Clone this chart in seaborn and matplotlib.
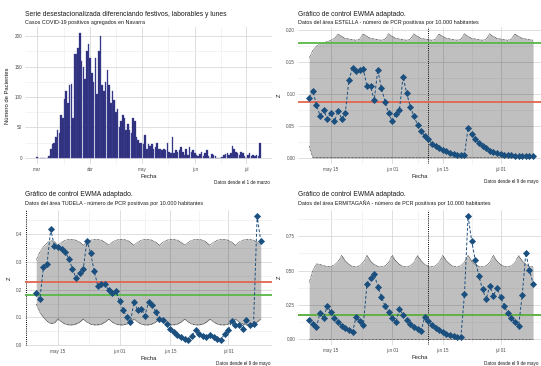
import numpy as np
import matplotlib
matplotlib.use("Agg")
import matplotlib.pyplot as plt
import seaborn as sns

# ---------------- datos ----------------
# Casos diarios en Navarra desde el 1 de marzo (día 0)
casos = [2, 0, 0, 0, 0, 0, 0, 3, 15, 22,
         25, 35, 45, 40, 70, 65, 97, 110, 90, 120,
         122, 65, 170, 170, 180, 205, 160, 150, 130, 175,
         188, 165, 140, 125, 165, 105, 175, 200, 120, 110,
         125, 145, 120, 90, 110, 95, 75, 80, 50, 60,
         70, 65, 45, 55, 45, 40, 65, 60, 35, 30,
         25, 25, 22, 37, 15, 22, 20, 22, 15, 18,
         25, 15, 14, 12, 14, 12, 25, 10, 8, 35,
         8, 12, 10, 12, 18, 10, 5, 15, 5, 18,
         10, 12, 8, 5, 3, 6, 10, 3, 8, 12,
         3, 0, 6, 5, 3, 0, 0, 0, 2, 5,
         6, 8, 5, 8, 20, 15, 10, 8, 5, 10,
         8, 3, 0, 5, 8, 3, 5, 3, 5, 3,
         25]
meses_dias = [0, 31, 61, 92, 122]
meses_lab = ["mar", "abr", "may", "jun", "jul"]

# EWMA desde el 9 de mayo (día 0)
fechas_dias = [6, 23, 37, 53]
fechas_lab = ["may 15", "jun 01", "jun 15", "jul 01"]

estella_z = [0.094, 0.105, 0.083, 0.066, 0.075, 0.061, 0.070, 0.057, 0.074, 0.061,
             0.070, 0.122, 0.141, 0.136, 0.138, 0.139, 0.112, 0.112, 0.090, 0.138,
             0.109, 0.088, 0.070, 0.057, 0.068, 0.075, 0.127, 0.101, 0.080, 0.065,
             0.052, 0.042, 0.034, 0.029, 0.022, 0.018, 0.015, 0.012, 0.010, 0.008,
             0.006, 0.005, 0.004, 0.004, 0.047, 0.037, 0.030, 0.023, 0.018, 0.015,
             0.011, 0.009, 0.008, 0.006, 0.005, 0.004, 0.004, 0.003, 0.003, 0.002,
             0.002, 0.002, 0.002]
estella_sup = [0.156, 0.168, 0.175, 0.178, 0.180, 0.182, 0.184, 0.187,
               0.194, 0.190, 0.187, 0.186, 0.185, 0.184, 0.186,
               0.194, 0.190, 0.187, 0.186, 0.185, 0.184, 0.186,
               0.194, 0.190, 0.187, 0.186, 0.185, 0.184, 0.186,
               0.194, 0.190, 0.187, 0.186, 0.185, 0.184, 0.186,
               0.194, 0.190, 0.187, 0.186, 0.185, 0.184, 0.186,
               0.194, 0.190, 0.187, 0.186, 0.185, 0.184, 0.186,
               0.194, 0.190, 0.187, 0.186, 0.185, 0.184, 0.186,
               0.194, 0.190, 0.187, 0.186, 0.185, 0.184]
estella_inf = [0.018, 0.0, 0.0, 0.0, 0.0, 0.0, 0.0, 0.0, 0.0, 0.0,
               0.0, 0.0, 0.0, 0.0, 0.0, 0.0, 0.0, 0.0, 0.0, 0.0,
               0.0, 0.0, 0.0, 0.0, 0.0, 0.0, 0.0, 0.0, 0.0, 0.0,
               0.0, 0.0, 0.0, 0.0, 0.0, 0.0, 0.0, 0.0, 0.0, 0.0,
               0.0, 0.0, 0.0, 0.0, 0.0, 0.0, 0.0, 0.0, 0.0, 0.0,
               0.0, 0.0, 0.0, 0.0, 0.0, 0.0, 0.0, 0.0, 0.0, 0.0,
               0.0, 0.0, 0.0]

tudela_z = [0.189, 0.166, 0.282, 0.294, 0.417, 0.358, 0.354, 0.346, 0.336, 0.312,
            0.274, 0.243, 0.261, 0.276, 0.376, 0.333, 0.267, 0.214, 0.219, 0.219,
            0.198, 0.189, 0.196, 0.159, 0.126, 0.102, 0.082, 0.156, 0.126, 0.132,
            0.106, 0.154, 0.144, 0.120, 0.094, 0.090, 0.076, 0.058, 0.046, 0.036,
            0.030, 0.024, 0.020, 0.032, 0.056, 0.042, 0.034, 0.028, 0.036, 0.030,
            0.024, 0.020, 0.040, 0.054, 0.088, 0.072, 0.072, 0.060, 0.092, 0.072,
            0.076, 0.465, 0.375]
tudela_sup = [0.306, 0.336, 0.354, 0.368, 0.376, 0.374,
              0.360, 0.371, 0.378, 0.381, 0.381, 0.378, 0.371,
              0.360, 0.371, 0.378, 0.381, 0.381, 0.378, 0.371,
              0.360, 0.371, 0.378, 0.381, 0.381, 0.378, 0.371,
              0.360, 0.371, 0.378, 0.381, 0.381, 0.378, 0.371,
              0.360, 0.371, 0.378, 0.381, 0.381, 0.378, 0.371,
              0.360, 0.371, 0.378, 0.381, 0.381, 0.378, 0.371,
              0.360, 0.371, 0.378, 0.381, 0.381, 0.378, 0.371,
              0.360, 0.371, 0.378, 0.381, 0.381, 0.378, 0.371,
              0.360]
tudela_inf = [0.148, 0.118, 0.100, 0.086, 0.078, 0.080,
              0.094, 0.083, 0.076, 0.073, 0.073, 0.076, 0.083,
              0.094, 0.083, 0.076, 0.073, 0.073, 0.076, 0.083,
              0.094, 0.083, 0.076, 0.073, 0.073, 0.076, 0.083,
              0.094, 0.083, 0.076, 0.073, 0.073, 0.076, 0.083,
              0.094, 0.083, 0.076, 0.073, 0.073, 0.076, 0.083,
              0.094, 0.083, 0.076, 0.073, 0.073, 0.076, 0.083,
              0.094, 0.083, 0.076, 0.073, 0.073, 0.076, 0.083,
              0.094, 0.083, 0.076, 0.073, 0.073, 0.076, 0.083,
              0.094]

ermi_z = [0.138, 0.107, 0.085, 0.192, 0.150, 0.243, 0.194, 0.150, 0.121, 0.097,
          0.078, 0.066, 0.049, 0.163, 0.131, 0.102, 0.400, 0.442, 0.478, 0.381,
          0.308, 0.240, 0.199, 0.150, 0.121, 0.218, 0.175, 0.138, 0.109, 0.085,
          0.070, 0.056, 0.163, 0.131, 0.102, 0.083, 0.066, 0.051, 0.039, 0.029,
          0.022, 0.015, 0.010, 0.325, 0.898, 0.716, 0.575, 0.459, 0.362, 0.289,
          0.388, 0.313, 0.374, 0.308, 0.240, 0.192, 0.155, 0.121, 0.095, 0.320,
          0.629, 0.502, 0.405]
ermi_sup = [0.413, 0.500, 0.548, 0.545, 0.535, 0.530, 0.530, 0.540, 0.565,
            0.610, 0.570, 0.545, 0.530, 0.527, 0.535, 0.560,
            0.610, 0.570, 0.545, 0.530, 0.527, 0.535, 0.560,
            0.610, 0.570, 0.545, 0.530, 0.527, 0.535, 0.560,
            0.610, 0.570, 0.545, 0.530, 0.527, 0.535, 0.560,
            0.610, 0.570, 0.545, 0.530, 0.527, 0.535, 0.560,
            0.610, 0.570, 0.545, 0.530, 0.527, 0.535, 0.560,
            0.610, 0.570, 0.545, 0.530, 0.527, 0.535, 0.560,
            0.610, 0.570, 0.545, 0.530, 0.527]
ermi_inf = estella_inf[1:] + [0.0]

# medias (rojo), referencia (verde), línea vertical
medias = [0.087, 0.227, 0.175]
referencias = [0.180, 0.180, 0.176]
cortes = [33, -2.8, 33]

# ---------------- estilo ----------------
sns.set_theme(style="white")
plt.rcParams['font.family'] = ['Liberation Sans', 'DejaVu Sans']

AZUL = "#1B4F7E"
ROJO = "#E3654C"
VERDE = "#58B947"
BARRA = "#2A2C78"
GRIS_T = "#4D4D4D"
TXT = "#1A1A1A"

W, H = 541, 366
fig = plt.figure(figsize=(W / 100, H / 100), dpi=100)


def panel(l, t, r, b):
    return fig.add_axes([l / W, 1 - b / H, (r - l) / W, (b - t) / H])


def estilo(ax, xmaj, xlab, xmin_, ymaj, ylab, ymin_):
    ax.set_xticks(xmaj)
    ax.set_xticklabels(xlab)
    ax.set_xticks(xmin_, minor=True)
    ax.set_yticks(ymaj)
    ax.set_yticklabels(ylab)
    ax.set_yticks(ymin_, minor=True)
    ax.grid(which='major', color='#D9D9D9', lw=0.6)
    ax.grid(which='minor', color='#EAEAEA', lw=0.4)
    ax.set_axisbelow(True)
    for s in ax.spines.values():
        s.set_visible(False)
    ax.tick_params(which='both', length=0, labelsize=3.3, labelcolor=GRIS_T, pad=2)
    ax.set_xlabel("Fecha", fontsize=4.2, labelpad=1.5, color=TXT)


# ---------- panel 1: barras ----------
ax1 = panel(25, 27, 272, 164)
dias = np.arange(len(casos))
sns.barplot(x=dias, y=casos, native_scale=True, color=BARRA, saturation=1,
            width=0.9, edgecolor="#4A4D9E", linewidth=0.25, errorbar=None, ax=ax1)
ax1.set_xlim(-7, 137)
ax1.set_ylim(-10.25, 215.25)
estilo(ax1, meses_dias, meses_lab, [15.5, 46, 76.5, 107],
       [0, 50, 100, 150, 200], ["0", "50", "100", "150", "200"], [25, 75, 125, 175])
ax1.set_ylabel("Número de Pacientes", fontsize=4.2, labelpad=3, color=TXT)
fig.text(25 / W, 1 - 14 / H, "Serie desestacionalizada diferenciando festivos, laborables y lunes",
         fontsize=4.9, va='center', ha='left', color=TXT)
fig.text(25 / W, 1 - 22.5 / H, "Casos COVID-19 positivos agregados en Navarra",
         fontsize=3.85, va='center', ha='left', color=TXT)
fig.text(270 / W, 1 - 182 / H, "Datos desde el 1 de marzo", fontsize=3.3,
         va='center', ha='right', color=TXT)


# ---------- paneles EWMA ----------
def ewma(ax, z, sup, inf, media, ref, corte):
    d = np.arange(len(z))
    ax.fill_between(d, inf, sup, color='black', alpha=0.25, lw=0, zorder=1)
    ax.plot(d, sup, ls=(0, (1, 1)), color='black', lw=0.5, zorder=2)
    ax.plot(d, inf, ls=(0, (1, 1)), color='black', lw=0.5, zorder=2)
    ax.axvline(corte, ls=(0, (1, 1.2)), color='black', lw=0.7, zorder=2)
    ax.axhline(media, color=ROJO, lw=1.3, zorder=3)
    ax.axhline(ref, color=VERDE, lw=1.3, zorder=3)
    sns.lineplot(x=d, y=z, color=AZUL, lw=0.7, linestyle=(0, (3, 2)), ax=ax, zorder=4)
    sns.scatterplot(x=d, y=z, color=AZUL, marker='D', s=13, linewidth=0, ax=ax, zorder=5)
    ax.set_xlim(-3.1, 64.2)
    ax.set_ylabel("Z", fontsize=4.2, labelpad=3, rotation=90, color=TXT)


ewma_minor = [14.5, 30, 45]
sub = "Datos del área {} - número de PCR positivas por 10.000 habitantes"

ax2 = panel(298, 27, 541, 164)
ewma(ax2, estella_z, estella_sup, estella_inf, medias[0], referencias[0], cortes[0])
ax2.set_ylim(-0.0098, 0.2048)
estilo(ax2, fechas_dias, fechas_lab, ewma_minor,
       [0, 0.05, 0.10, 0.15, 0.20], ["0.00", "0.05", "0.10", "0.15", "0.20"],
       [0.025, 0.075, 0.125, 0.175])

ax3 = panel(25, 210, 272, 346)
ewma(ax3, tudela_z, tudela_sup, tudela_inf, medias[1], referencias[1], cortes[1])
ax3.set_xlim(-3.1, 65.1)
ax3.set_ylim(-0.003, 0.487)
estilo(ax3, fechas_dias, fechas_lab, ewma_minor,
       [0, 0.1, 0.2, 0.3, 0.4], ["0.0", "0.1", "0.2", "0.3", "0.4"],
       [0.05, 0.15, 0.25, 0.35, 0.45])

ax4 = panel(298, 210, 541, 345)
ewma(ax4, ermi_z, ermi_sup, ermi_inf, medias[2], referencias[2], cortes[2])
ax4.set_ylim(-0.045, 0.943)
estilo(ax4, fechas_dias, fechas_lab, ewma_minor,
       [0, 0.25, 0.50, 0.75], ["0.00", "0.25", "0.50", "0.75"],
       [0.125, 0.375, 0.625, 0.875])

for (x, y, area) in [(298, 14, "ESTELLA"), (25, 195, "TUDELA"), (298, 195, "ERMITAGAÑA")]:
    fig.text(x / W, 1 - y / H, "Gráfico de control EWMA adaptado.",
             fontsize=4.9, va='center', ha='left', color=TXT)
    fig.text(x / W, 1 - (y + 8.5) / H, sub.format(area),
             fontsize=3.85, va='center', ha='left', color=TXT)

for (x, y) in [(539, 182), (270, 363), (539, 363)]:
    fig.text(x / W, 1 - y / H, "Datos desde el 9 de mayo", fontsize=3.3,
             va='center', ha='right', color=TXT)

fig.savefig("out.png", dpi=100)
